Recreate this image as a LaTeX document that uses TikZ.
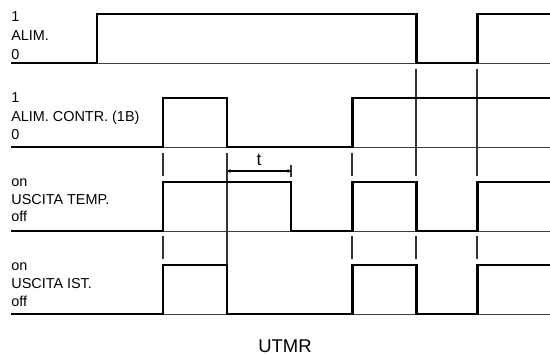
\documentclass[tikz,border=0pt]{standalone}
\usepackage{fontspec}
\setmainfont{Liberation Sans}
\usetikzlibrary{arrows.meta, positioning}

\begin{document}
\begin{tikzpicture}[
  x=0.02cm, y=-0.02cm,
  >={Stealth[length=2pt, width=2.2pt]},
  every node/.style={font=\fontsize{8.2}{10}\selectfont, inner sep=0pt},
  lbl/.style={anchor=base west},
  wave/.style={line width=1.7pt, line join=miter},
  axis/.style={line width=0.5pt, draw=black!75},
  guide/.style={line width=0.7pt, draw=black!80}
]
\useasboundingbox (0,0) rectangle (550,354);

% labels
\node[lbl] (alimhi) at (11,22) {1};
\node[lbl] (alim) at (11,41) {ALIM.};
\node[lbl] (alimlo) at (11,60) {0};

\node[lbl] (contrhi) at (11,103) {1};
\node[lbl] (contr) at (11,122) {ALIM. CONTR. (1B)};
\node[lbl] (contrlo) at (11,140) {0};

\node[lbl] (temphi) at (11,187) {on};
\node[lbl] (temp) at (11,205) {USCITA TEMP.};
\node[lbl] (templo) at (11,222) {off};

\node[lbl] (isthi) at (11,270) {on};
\node[lbl] (ist) at (11,288) {USCITA IST.};
\node[lbl] (istlo) at (11,306) {off};

% axes
\draw[axis] (11,63) -- (550,63);
\draw[axis] (11,147) -- (550,147);
\draw[axis] (11,231) -- (550,231);
\draw[axis] (11,314) -- (550,314);

% guides
\draw[guide] (416,69) -- (416,176);
\draw[guide] (477,69) -- (477,176);
\draw[guide] (163,153) -- (163,176);
\draw[guide] (352,153) -- (352,176);
\draw[guide] (227,153) -- (227,265);
\draw[guide] (163,236) -- (163,259);
\draw[guide] (352,236) -- (352,259);
\draw[guide] (416,236) -- (416,259);
\draw[guide] (477,236) -- (477,259);

% waveforms
\draw[wave] (11,63) -- (97,63) -- (97,14) -- (416,14) -- (416,63) -- (477,63) -- (477,14) -- (550,14);
\draw[wave] (11,147) -- (163,147) -- (163,98) -- (227,98) -- (227,147) -- (352,147) -- (352,98) -- (550,98);
\draw[wave] (11,231) -- (163,231) -- (163,182) -- (291,182) -- (291,231) -- (352,231) -- (352,182) -- (416,182) -- (416,231) -- (477,231) -- (477,182) -- (550,182);
\draw[wave] (11,314) -- (163,314) -- (163,265) -- (227,265) -- (227,314) -- (352,314) -- (352,265) -- (416,265) -- (416,314) -- (477,314) -- (477,265) -- (550,265);

% time t
\coordinate (ta) at (227,171);
\coordinate (tb) at (291,171);
\draw[guide] (291,165) -- (291,177);
\draw[<->, line width=0.6pt] (ta) -- node[above=2.5pt, font=\fontsize{10}{12}\selectfont] (tlbl) {t} (tb);

\node[font=\fontsize{10.5}{12}\selectfont, anchor=base] (utmr) at (285,352) {UTMR};

\end{tikzpicture}
\end{document}
